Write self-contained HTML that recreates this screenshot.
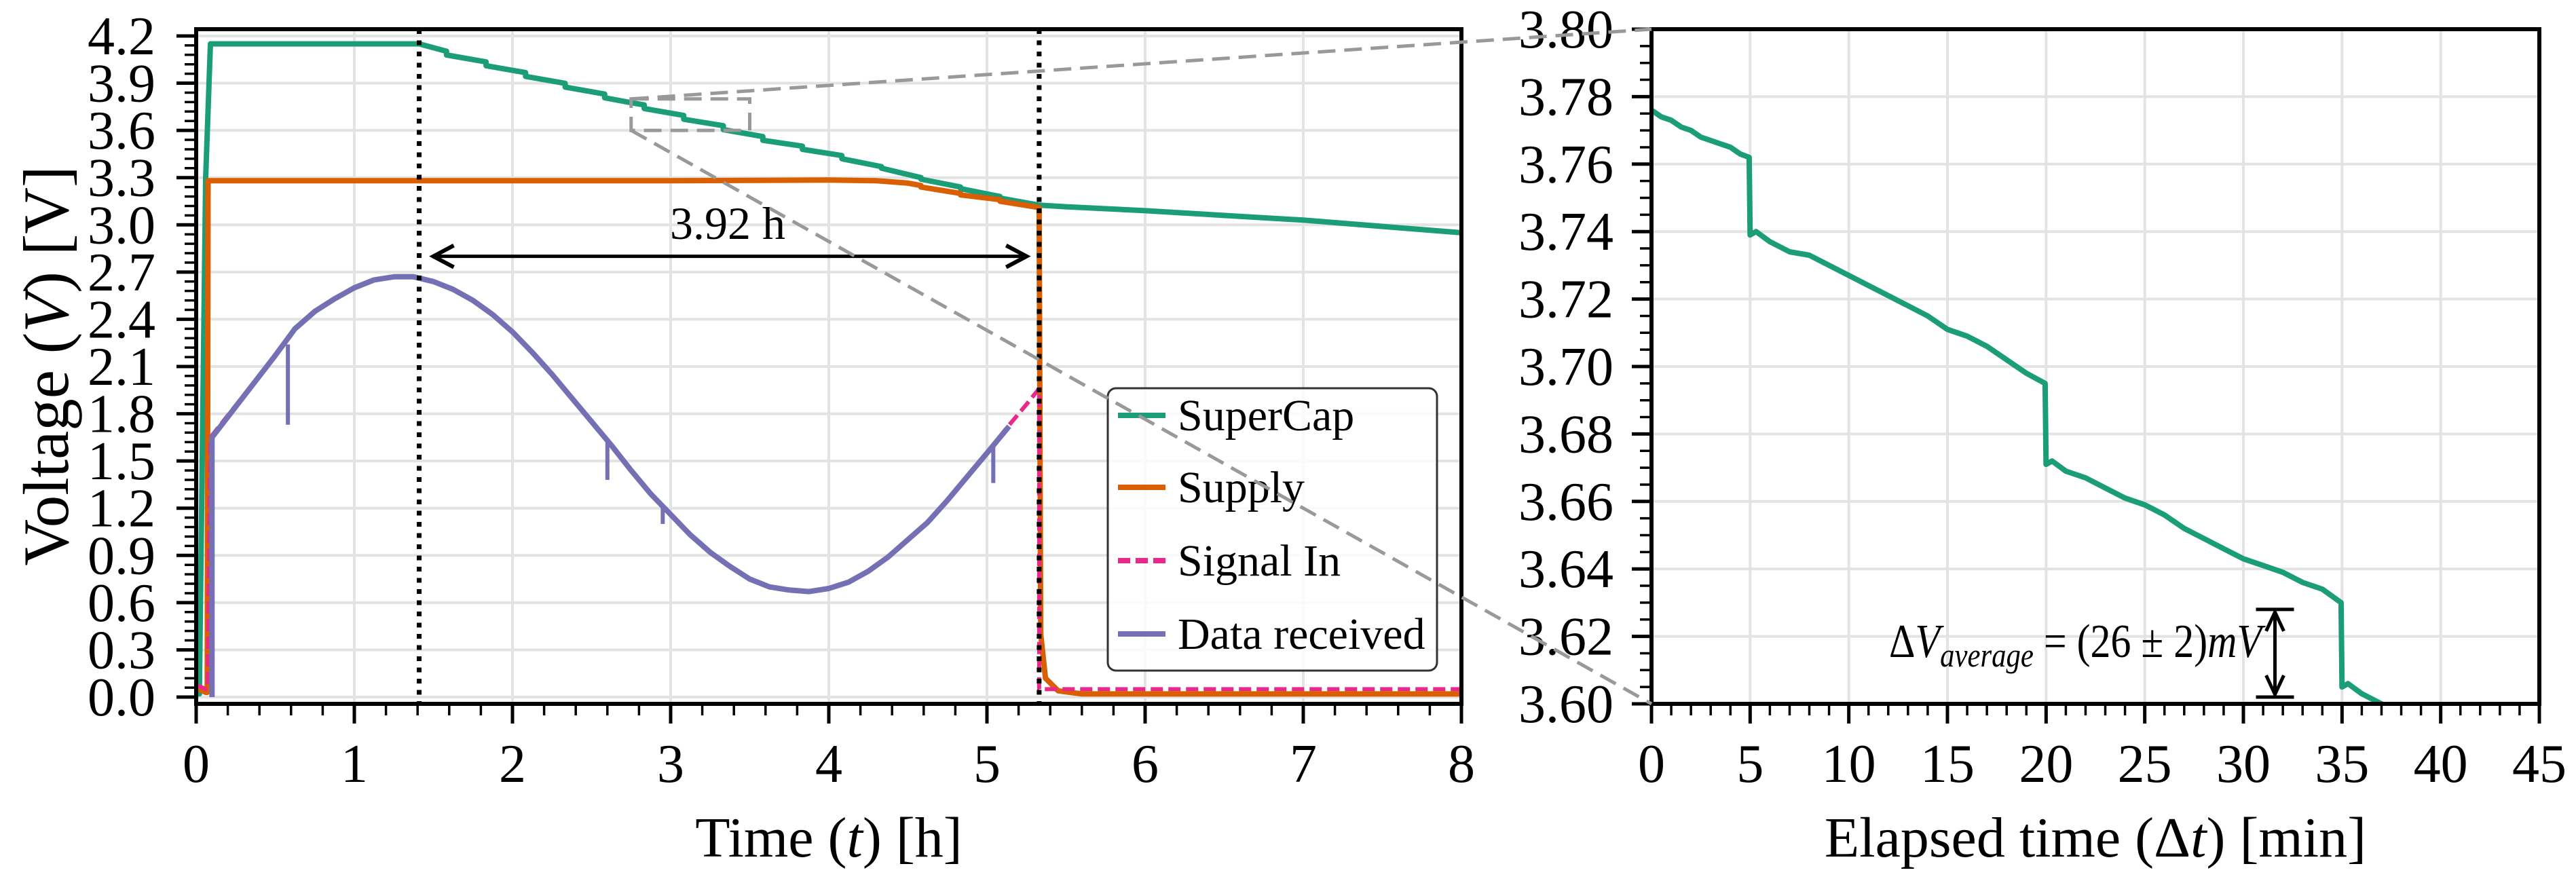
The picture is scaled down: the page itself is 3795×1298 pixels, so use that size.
<!DOCTYPE html>
<html><head><meta charset="utf-8"><style>
html,body{margin:0;padding:0;background:#fff;}
svg{display:block;font-family:"Liberation Serif","DejaVu Serif",serif;}
</style></head><body>
<svg id="fig" xmlns="http://www.w3.org/2000/svg" width="3795" height="1298" viewBox="0 0 3795 1298">
<defs>
<clipPath id="clipL"><rect x="289" y="43" width="1864" height="994"/></clipPath>
<clipPath id="clipR"><rect x="2433" y="43" width="1308" height="994"/></clipPath>
</defs>
<g id="root"></g>
</svg>
<script>
// ---------- Left chart data ----------
const leftXTicks = [0,1,2,3,4,5,6,7,8];
const leftYTicks = [0.0,0.3,0.6,0.9,1.2,1.5,1.8,2.1,2.4,2.7,3.0,3.3,3.6,3.9,4.2];
const leftYTickLabels = ["0.0","0.3","0.6","0.9","1.2","1.5","1.8","2.1","2.4","2.7","3.0","3.3","3.6","3.9","4.2"];
const superT = [0,0.02,0.06,0.09,1.41,1.583,1.583,1.833,1.833,2.083,2.083,2.333,2.333,2.583,2.583,2.75,2.833,2.833,3.083,3.083,3.333,3.333,3.583,3.583,3.833,3.833,4.083,4.083,4.333,4.333,4.583,4.583,4.833,4.833,5.083,5.083,5.33,5.5,6,7,7.5,8];
const superV = [0.05,0.02,3.3,4.15,4.15,4.103,4.079,4.035,4.011,3.967,3.943,3.899,3.875,3.831,3.807,3.776,3.762,3.739,3.695,3.671,3.630,3.605,3.561,3.537,3.50,3.48,3.44,3.42,3.37,3.36,3.30,3.29,3.24,3.23,3.18,3.17,3.125,3.115,3.09,3.03,2.99,2.95];
const supplyT = [0,0.06,0.07,0.075,1,2,3,4,4.3,4.5,4.583,4.583,4.833,4.833,5.083,5.083,5.33,5.34,5.37,5.45,5.6,8];
const supplyV = [0.06,0.03,0.03,3.28,3.28,3.28,3.28,3.285,3.28,3.265,3.25,3.24,3.20,3.19,3.16,3.15,3.11,0.4,0.12,0.04,0.02,0.02];
const signalT = [0,0.06,0.073,0.09,0.5,0.625,0.75,0.875,1.0,1.125,1.25,1.375,1.5,1.625,1.75,1.875,2.0,2.125,2.25,2.375,2.5,2.625,2.75,2.875,3.0,3.125,3.25,3.375,3.5,3.625,3.75,3.875,4.0,4.125,4.25,4.375,4.5,4.625,4.75,4.875,5.0,5.125,5.25,5.33,5.33,8];
const signalV = [0.08,0.05,0.05,1.65,2.17,2.34,2.45,2.53,2.60,2.65,2.67,2.67,2.64,2.59,2.52,2.43,2.32,2.19,2.05,1.90,1.75,1.60,1.44,1.29,1.16,1.03,0.92,0.83,0.75,0.70,0.68,0.67,0.69,0.73,0.80,0.89,1.00,1.11,1.25,1.40,1.55,1.71,1.86,1.96,0.05,0.05];
const dataT = [0.1,0.1,0.5,0.625,0.75,0.875,1.0,1.125,1.25,1.375,1.5,1.625,1.75,1.875,2.0,2.125,2.25,2.375,2.5,2.625,2.75,2.875,3.0,3.125,3.25,3.375,3.5,3.625,3.75,3.875,4.0,4.125,4.25,4.375,4.5,4.625,4.75,4.875,5.0,5.14];
const dataV = [0.0,1.65,2.17,2.34,2.45,2.53,2.60,2.65,2.67,2.67,2.64,2.59,2.52,2.43,2.32,2.19,2.05,1.90,1.75,1.60,1.44,1.29,1.16,1.03,0.92,0.83,0.75,0.70,0.68,0.67,0.69,0.73,0.80,0.89,1.00,1.11,1.25,1.40,1.55,1.72];
const spikeT = [0.58,2.6,2.95,5.04];
const spikeTop = [2.24,1.63,1.22,1.59];
const spikeBottom = [1.73,1.38,1.10,1.36];
const markerT = [1.41,5.33];
const durationLabel = "3.92 h";
// ---------- Right chart data ----------
const rightXTicks = [0,5,10,15,20,25,30,35,40,45];
const rightYTicks = [3.60,3.62,3.64,3.66,3.68,3.70,3.72,3.74,3.76,3.78,3.80];
const rightYTickLabels = ["3.60","3.62","3.64","3.66","3.68","3.70","3.72","3.74","3.76","3.78","3.80"];
const zoomT = [0,0.5,1,1.5,2,2.5,3,3.5,4,4.5,4.95,5.0,5.3,6,7,8,9,10,11,12,13,14,15,16,17,18,19,19.95,20,20.3,21,22,23,24,25,26,27,28,29,30,31,32,33,34,34.95,35,35.3,36,37,38];
const zoomV = [3.776,3.774,3.773,3.771,3.770,3.768,3.767,3.766,3.765,3.763,3.762,3.739,3.740,3.737,3.734,3.733,3.730,3.727,3.724,3.721,3.718,3.715,3.711,3.709,3.706,3.702,3.698,3.695,3.671,3.672,3.669,3.667,3.664,3.661,3.659,3.656,3.652,3.649,3.646,3.643,3.641,3.639,3.636,3.634,3.630,3.605,3.606,3.603,3.600,3.597];
const deltaTop = 3.628, deltaBottom = 3.602, deltaX = 31.6;

// ---------- helpers ----------
const NS = "http://www.w3.org/2000/svg";
const root = document.getElementById('root');
function mk(tag, attrs, parent){ const e=document.createElementNS(NS,tag); for(const k in attrs) e.setAttribute(k,attrs[k]); (parent||root).appendChild(e); return e; }
const L = {x0:289,x1:2153,y0:1037,y1:43,xmin:0,xmax:8,ymin:-0.043,ymax:4.243};
const R = {x0:2433,x1:3741,y0:1037,y1:43,xmin:0,xmax:45,ymin:3.60,ymax:3.80};
function sx(A,v){return A.x0+(v-A.xmin)/(A.xmax-A.xmin)*(A.x1-A.x0);}
function sy(A,v){return A.y0-(v-A.ymin)/(A.ymax-A.ymin)*(A.y0-A.y1);}
function pathOf(A,ts,vs){return ts.map((t,i)=>(i?'L':'M')+sx(A,t).toFixed(1)+','+sy(A,vs[i]).toFixed(1)).join('');}
const GRID='#e3e3e3';
const TFS=80;

// ---------- LEFT PLOT ----------
const gL = mk('g',{});  
const gridL = mk('g',{'clip-path':'url(#clipL)'},gL);
 
leftXTicks.forEach(t=>{ const e=mk('line',{x1:sx(L,t),x2:sx(L,t),y1:L.y1,y2:L.y0,stroke:GRID,'stroke-width':4},gridL);
    });
leftYTicks.forEach(v=>{ const e=mk('line',{x1:L.x0,x2:L.x1,y1:sy(L,v),y2:sy(L,v),stroke:GRID,'stroke-width':4},gridL);
    });

const serL = mk('g',{'clip-path':'url(#clipL)',fill:'none','stroke-linejoin':'round'},gL);
let p;
p = mk('path',{d:pathOf(L,superT,superV),stroke:'#1b9e77','stroke-width':8},serL);
 
p = mk('path',{d:pathOf(L,supplyT,supplyV),stroke:'#d95f02','stroke-width':8},serL);
 
p = mk('path',{d:pathOf(L,signalT,signalV),stroke:'#e7298a','stroke-width':6,'stroke-dasharray':'18,8'},serL);
 
p = mk('path',{d:pathOf(L,dataT,dataV),stroke:'#7570b3','stroke-width':8},serL);
 
spikeT.forEach((t,i)=>{ const e=mk('line',{x1:sx(L,t),x2:sx(L,t),y1:sy(L,spikeTop[i]),y2:sy(L,spikeBottom[i]),stroke:'#7570b3','stroke-width':6},serL);
    });
markerT.forEach(t=>{ const e=mk('line',{x1:sx(L,t),x2:sx(L,t),y1:L.y1,y2:L.y0,stroke:'#000','stroke-width':7,'stroke-dasharray':'7,9.5'},serL);
    });

// duration arrow
const ay = sy(L,2.80), ax1 = sx(L,1.50), ax2 = sx(L,5.25);
const arr = mk('g',{stroke:'#000','stroke-width':5,fill:'none'},gL);
 
mk('line',{x1:ax1,x2:ax2,y1:ay,y2:ay},arr);
mk('path',{d:`M${ax1+30},${ay-16}L${ax1},${ay}L${ax1+30},${ay+16}`,'stroke-width':6},arr);
mk('path',{d:`M${ax2-30},${ay-16}L${ax2},${ay}L${ax2-30},${ay+16}`,'stroke-width':6},arr);
let tx = mk('text',{x:1072,y:352,'font-size':68,'text-anchor':'middle',fill:'#000'},gL);
tx.textContent = durationLabel;
 

// zoom rectangle
const zr = mk('rect',{x:sx(L,2.75),y:sy(L,3.80),width:sx(L,3.5)-sx(L,2.75),height:sy(L,3.60)-sy(L,3.80),fill:'none',stroke:'#999','stroke-width':5,'stroke-dasharray':'26,13'},gL);
 

// left frame & ticks
const frL = mk('rect',{x:L.x0,y:L.y1,width:L.x1-L.x0,height:L.y0-L.y1,fill:'none',stroke:'#000','stroke-width':6},gL);
 
const tkL = mk('g',{stroke:'#000'},gL);
 
for(let i=0;i<=40;i++){ const t=i*0.2, maj=(i%5===0); mk('line',{x1:sx(L,t),x2:sx(L,t),y1:L.y0,y2:L.y0+(maj?29:17),'stroke-width':maj?5:3.5},tkL); }
for(let i=0;i<=70;i++){ const v=i*0.06, maj=(i%5===0); mk('line',{x1:L.x0,x2:L.x0-(maj?29:17),y1:sy(L,v),y2:sy(L,v),'stroke-width':maj?5:3.5},tkL); }
leftXTicks.forEach(t=>{ const e=mk('text',{x:sx(L,t),y:1152,'font-size':TFS,'text-anchor':'middle'},gL); e.textContent=String(t);
    });
leftYTicks.forEach((v,i)=>{ const e=mk('text',{x:229,y:sy(L,v)+27,'font-size':TFS,'text-anchor':'end'},gL); e.textContent=leftYTickLabels[i];
    });
tx = mk('text',{x:1221,y:1262,'font-size':84,'text-anchor':'middle'},gL);
tx.innerHTML = 'Time (<tspan font-style="italic">t</tspan>) [h]';
 
tx = mk('text',{x:0,y:0,'font-size':95,'text-anchor':'middle',transform:'translate(100,539) rotate(-90)'},gL);
tx.innerHTML = 'Voltage (<tspan font-style="italic">V</tspan>) [V]';
 

// legend
const lg = mk('g',{},gL);  
mk('rect',{x:1632,y:572,width:485,height:416,rx:12,fill:'rgba(255,255,255,0.8)',stroke:'#333','stroke-width':3},lg);
const legNames=['SuperCap','Supply','Signal In','Data received'];
const legCols=['#1b9e77','#d95f02','#e7298a','#7570b3'];
const legY=[612,718,826,934];
legNames.forEach((n,i)=>{
  const g=mk('g',{},lg);  
  mk('line',{x1:1647,x2:1717,y1:legY[i],y2:legY[i],stroke:legCols[i],'stroke-width':8,'stroke-dasharray':i===2?'18,8':'none'},g);
  const t=mk('text',{x:1735,y:legY[i]+22,'font-size':66},g); t.textContent=n;
});

// ---------- RIGHT PLOT ----------
const gR = mk('g',{});  
const gridR = mk('g',{'clip-path':'url(#clipR)'},gR);
 
rightXTicks.forEach(t=>{ const e=mk('line',{x1:sx(R,t),x2:sx(R,t),y1:R.y1,y2:R.y0,stroke:GRID,'stroke-width':4},gridR);
    });
rightYTicks.forEach(v=>{ const e=mk('line',{x1:R.x0,x2:R.x1,y1:sy(R,v),y2:sy(R,v),stroke:GRID,'stroke-width':4},gridR);
    });
const serR = mk('g',{'clip-path':'url(#clipR)',fill:'none','stroke-linejoin':'round'},gR);
p = mk('path',{d:pathOf(R,zoomT,zoomV),stroke:'#1b9e77','stroke-width':8},serR);
 

// delta annotation
const dx = sx(R,deltaX), dyT = sy(R,deltaTop), dyB = sy(R,deltaBottom);
const dg = mk('g',{stroke:'#000','stroke-width':5,fill:'none'},gR);
 
mk('line',{x1:dx-28,x2:dx+28,y1:dyT,y2:dyT},dg);
mk('line',{x1:dx-28,x2:dx+28,y1:dyB,y2:dyB},dg);
mk('line',{x1:dx,x2:dx,y1:dyT+4,y2:dyB-4},dg);
mk('path',{d:`M${dx-13},${dyT+32}L${dx},${dyT+4}L${dx+13},${dyT+32}`},dg);
mk('path',{d:`M${dx-13},${dyB-32}L${dx},${dyB-4}L${dx+13},${dyB-32}`},dg);
tx = mk('text',{x:2783,y:968,'font-size':70,textLength:549,lengthAdjust:'spacingAndGlyphs'},gR);
tx.innerHTML = 'Δ<tspan font-style="italic">V</tspan><tspan font-style="italic" font-size="50" dy="14">average</tspan><tspan dy="-14"> = (26 ± 2)</tspan><tspan font-style="italic">mV</tspan>';
 

const frR = mk('rect',{x:R.x0,y:R.y1,width:R.x1-R.x0,height:R.y0-R.y1,fill:'none',stroke:'#000','stroke-width':6},gR);
 
const tkR = mk('g',{stroke:'#000'},gR);
 
for(let i=0;i<=45;i++){ const maj=(i%5===0); mk('line',{x1:sx(R,i),x2:sx(R,i),y1:R.y0,y2:R.y0+(maj?29:17),'stroke-width':maj?5:3.5},tkR); }
for(let i=0;i<=40;i++){ const v=3.60+i*0.005, maj=(i%4===0); mk('line',{x1:R.x0,x2:R.x0-(maj?29:17),y1:sy(R,v),y2:sy(R,v),'stroke-width':maj?5:3.5},tkR); }
rightXTicks.forEach(t=>{ const e=mk('text',{x:sx(R,t),y:1152,'font-size':TFS,'text-anchor':'middle'},gR); e.textContent=String(t);
    });
rightYTicks.forEach((v,i)=>{ const e=mk('text',{x:2377,y:sy(R,v)+27,'font-size':TFS,'text-anchor':'end'},gR); e.textContent=rightYTickLabels[i];
    });
tx = mk('text',{x:3087,y:1262,'font-size':84,'text-anchor':'middle'},gR);
tx.innerHTML = 'Elapsed time (Δ<tspan font-style="italic">t</tspan>) [min]';
 

// connector lines
const cg = mk('g',{stroke:'#999','stroke-width':5,'stroke-dasharray':'26,13',fill:'none'});
 
mk('line',{x1:sx(L,2.75),y1:sy(L,3.80),x2:R.x0,y2:R.y1},cg);
mk('line',{x1:sx(L,2.75),y1:sy(L,3.60),x2:R.x0,y2:R.y0},cg);
</script>
</body></html>
